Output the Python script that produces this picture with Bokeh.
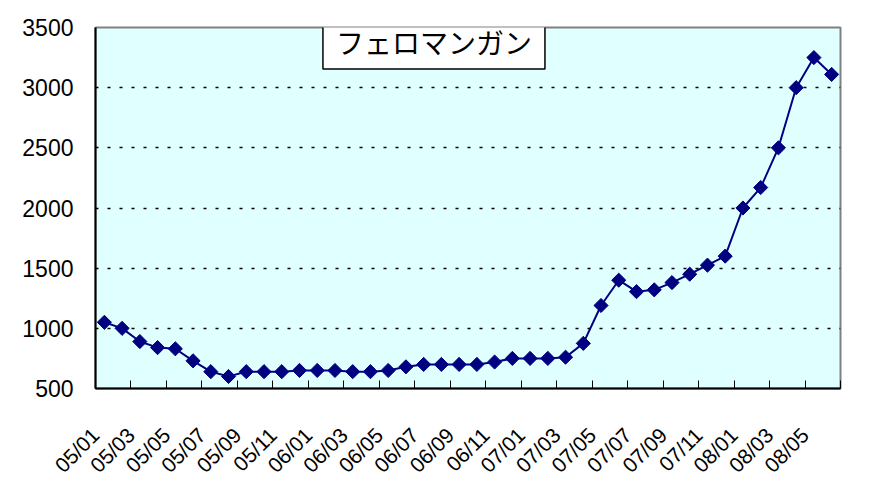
from bokeh.plotting import figure
from bokeh.models import FixedTicker, Label, Range1d, ColumnDataSource
from bokeh.embed import file_html
from bokeh.resources import INLINE
import math

# ---- data ----
months = ["05/01", "05/02", "05/03", "05/04", "05/05", "05/06", "05/07", "05/08", "05/09", "05/10", "05/11", "05/12",
          "06/01", "06/02", "06/03", "06/04", "06/05", "06/06", "06/07", "06/08", "06/09", "06/10", "06/11", "06/12",
          "07/01", "07/02", "07/03", "07/04", "07/05", "07/06", "07/07", "07/08", "07/09", "07/10", "07/11", "07/12",
          "08/01", "08/02", "08/03", "08/04", "08/05", "08/06"]
prices = [1050, 1000, 890, 840, 830, 730, 640, 600, 640, 640, 640, 650,
          650, 650, 640, 640, 650, 680, 700, 700, 700, 700, 720, 750,
          750, 750, 760, 875, 1190, 1400, 1305, 1320, 1380, 1450, 1525, 1600,
          2000, 2170, 2500, 3000, 3250, 3110]
tick_labels = months[::2]
y_ticks = [500, 1000, 1500, 2000, 2500, 3000, 3500]
title_text = "フェロマンガン"

xs = list(range(len(months)))
src = ColumnDataSource(dict(x=xs, y=prices, m=months))

p = figure(width=869, height=487, output_backend="svg", toolbar_location=None,
           x_range=Range1d(-0.5, len(months) - 0.5), y_range=Range1d(500, 3500),
           min_border_left=95, min_border_right=29, min_border_top=27, min_border_bottom=96)

p.background_fill_color = "#E0FFFF"
p.border_fill_color = "white"
p.outline_line_color = "#808080"
p.outline_line_width = 2

# x axis: ticks at category boundaries every two months
tick_pos = [i - 0.5 for i in range(0, len(months) + 1, 2)]
overrides = {i * 2 - 0.5: lab for i, lab in enumerate(tick_labels)}
overrides[len(months) - 0.5] = ""
p.xaxis.ticker = FixedTicker(ticks=tick_pos)
p.xaxis.major_label_overrides = overrides
p.xaxis.major_label_orientation = math.pi / 4
p.xaxis.major_label_text_font = "Liberation Sans"
p.xaxis.major_label_text_font_size = "21px"
p.xaxis.major_label_text_color = "black"
p.xaxis.major_label_standoff = 43
p.xaxis.major_tick_in = 8
p.xaxis.major_tick_out = 0
p.xaxis.minor_tick_line_color = None
p.xaxis.axis_line_color = "black"
p.xaxis.axis_line_width = 2
p.xaxis.major_tick_line_color = "black"
p.xaxis.major_tick_line_width = 1
p.xgrid.grid_line_color = None

# y axis
p.yaxis.ticker = FixedTicker(ticks=y_ticks)
p.yaxis.major_label_text_font = "Liberation Sans"
p.yaxis.major_label_text_font_size = "23px"
p.yaxis.major_label_text_color = "black"
p.yaxis.major_label_standoff = 22
p.yaxis.major_tick_in = 0
p.yaxis.major_tick_out = 0
p.yaxis.minor_tick_line_color = None
p.yaxis.axis_line_color = "black"
p.yaxis.axis_line_width = 2
p.ygrid.ticker = FixedTicker(ticks=y_ticks[1:-1])
p.ygrid.grid_line_color = "black"
p.ygrid.grid_line_width = 1.3
p.ygrid.grid_line_dash = "3 9"

p.line("x", "y", source=src, line_color="#000080", line_width=2)
p.scatter("x", "y", source=src, marker="square", angle=math.pi / 4, size=10,
          fill_color="#000080", line_color="#000080")

title = Label(x=18.58, y=3380, text=title_text, text_font="Noto Sans CJK JP",
              text_font_size="28px", text_align="center", text_baseline="middle",
              text_color="black", background_fill_color="white",
              border_line_color="black", border_line_width=1.5,
              padding=dict(left=13, right=13, top=7, bottom=7))
p.add_layout(title)

open("out.html", "w").write(file_html(p, INLINE))
